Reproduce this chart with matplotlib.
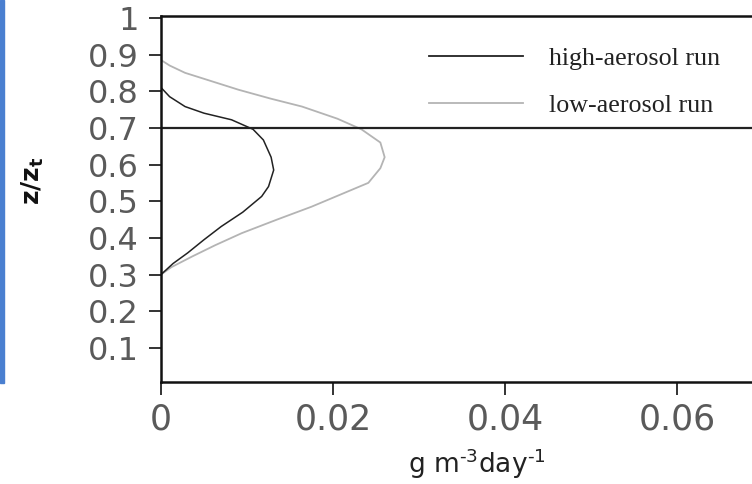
import matplotlib
matplotlib.use('Agg')
import matplotlib.pyplot as plt
from matplotlib.lines import Line2D
from matplotlib.patches import Rectangle

# profiles (rate in g m^-3 day^-1, height z/zt)
high_x = [0, 0.0010, 0.0028, 0.0050, 0.0082, 0.0107, 0.0119, 0.0128, 0.0131, 0.0125,
          0.0117, 0.0095, 0.0070, 0.0050, 0.0031, 0.0014, 0]
high_z = [0.81, 0.785, 0.758, 0.740, 0.722, 0.696, 0.667, 0.62, 0.585, 0.54,
          0.513, 0.47, 0.431, 0.395, 0.359, 0.33, 0.30]

low_x = [0, 0.0010, 0.0028, 0.0055, 0.0090, 0.0127, 0.0164, 0.0205, 0.0233, 0.0255, 0.0260,
         0.0255, 0.0241, 0.0175, 0.0135, 0.0094, 0.0063, 0.0036, 0.0012, 0]
low_z = [0.885, 0.87, 0.85, 0.83, 0.804, 0.78, 0.758, 0.725, 0.696, 0.66, 0.62,
         0.59, 0.55, 0.485, 0.45, 0.413, 0.38, 0.349, 0.32, 0.30]

cloud_top = 0.7
yticks = [0.1, 0.2, 0.3, 0.4, 0.5, 0.6, 0.7, 0.8, 0.9, 1]
ytick_labels = ['0.1', '0.2', '0.3', '0.4', '0.5', '0.6', '0.7', '0.8', '0.9', '1']
xticks = [0, 0.02, 0.04, 0.06]
xtick_labels = ['0', '0.02', '0.04', '0.06']

W, H = 752, 484
fig = plt.figure(figsize=(W / 100, H / 100), dpi=100)
ax = fig.add_axes([161 / W, 1 - 382 / H, (W - 161) / W, (382 - 16) / H])

ax.plot(low_x, low_z, color='#b4b4b4', lw=1.3)
ax.plot(high_x, high_z, color='#222222', lw=1.1)
ax.axhline(cloud_top, color='#222222', lw=1.6)

ax.set_xlim(0, 0.0687)
ax.set_ylim(0.007, 1.005)
ax.set_xticks(xticks)
ax.set_xticklabels(xtick_labels)
ax.set_yticks(yticks)
ax.set_yticklabels(ytick_labels)

for s in ['left', 'bottom', 'top']:
    ax.spines[s].set_linewidth(1.8)
    ax.spines[s].set_color('#111111')
ax.spines['right'].set_visible(False)

ax.tick_params(axis='both', direction='out', length=9, width=1.4, color='#333333')
ax.tick_params(axis='y', labelsize=23, labelcolor='#5a5a5a', pad=7)
ax.tick_params(axis='x', labelsize=25, labelcolor='#5a5a5a', pad=6)

ax.set_ylabel(r'z/z$_\mathregular{t}$', fontsize=18, fontweight='bold', color='#111111')
ax.yaxis.set_label_coords(-0.195, 0.55)
ax.set_xlabel('g m$^{\\mathregular{\u20103}}$day$^{\\mathregular{\u20101}}$', fontsize=19, color='#222222')
ax.xaxis.set_label_coords((477 - 161) / (W - 161), -0.175)

# legend drawn like the original (lines plus serif text)
handles = [Line2D([], [], color='#222222', lw=1.3), Line2D([], [], color='#b4b4b4', lw=1.3)]
leg = ax.legend(handles, ['high-aerosol run', 'low-aerosol run'], loc='upper left',
                bbox_to_anchor=(0.4146, 0.979), frameon=False, handlelength=3.6,
                handletextpad=1.0, labelspacing=0.92,
                prop={'family': 'Liberation Serif', 'size': 18.7})
for t in leg.get_texts():
    t.set_color('#222222')

# blue edge of the screenshot
fig.patches.append(Rectangle((0, 1 - 383 / H), 4 / W, 383 / H, transform=fig.transFigure,
                             color='#4a7fd0', zorder=0))

fig.savefig('out.png', dpi=100)
